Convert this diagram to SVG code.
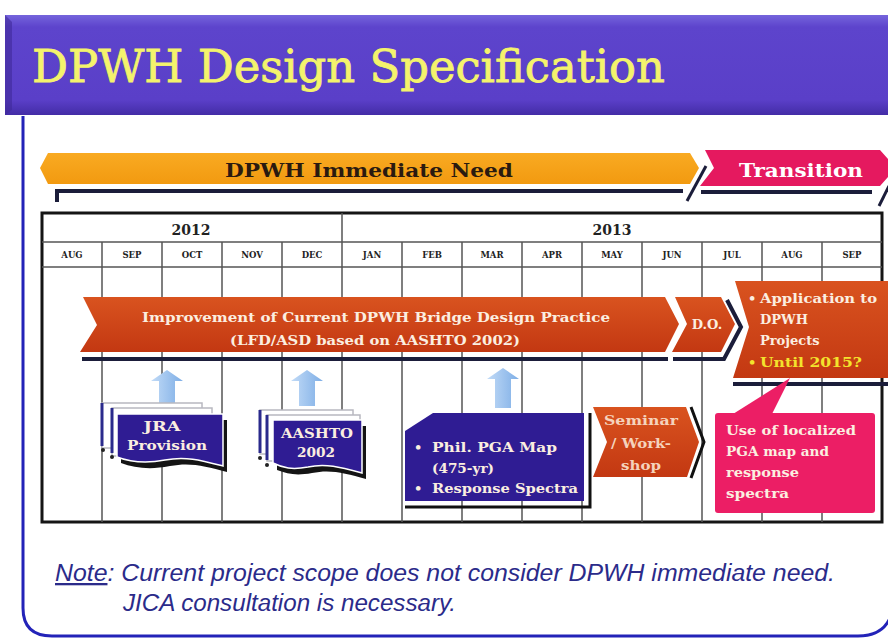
<svg xmlns="http://www.w3.org/2000/svg" width="888" height="638" viewBox="0 0 888 638">
<defs>
<linearGradient id="gTitle" x1="0" y1="0" x2="0" y2="1">
<stop offset="0" stop-color="#7564dc"/><stop offset="0.12" stop-color="#5d44cc"/><stop offset="0.85" stop-color="#5a3fc8"/><stop offset="1" stop-color="#432ca6"/>
</linearGradient>
<linearGradient id="gRed" x1="0" y1="0" x2="0" y2="1">
<stop offset="0" stop-color="#d9531f"/><stop offset="1" stop-color="#c33812"/>
</linearGradient>
<linearGradient id="gOrange" x1="0" y1="0" x2="0" y2="1">
<stop offset="0" stop-color="#f9aa22"/><stop offset="1" stop-color="#f29a10"/>
</linearGradient>
<linearGradient id="gBlueArrow" x1="0" y1="0" x2="1" y2="0">
<stop offset="0" stop-color="#c2dbf7"/><stop offset="1" stop-color="#7eaee6"/>
</linearGradient>
<style>
.bt{font-family:"DejaVu Serif","Liberation Serif",serif;font-weight:bold}
.wt{fill:#fbeee0}
.mo{font-family:"DejaVu Serif","Liberation Serif",serif;font-weight:bold;font-size:8.5px;fill:#222;text-anchor:middle}
.yr{font-family:"DejaVu Serif","Liberation Serif",serif;font-weight:bold;font-size:14px;fill:#222;text-anchor:middle}
.grid{stroke:#555;stroke-width:1.5;fill:none}
.shadow{stroke:#1b1d3a;stroke-width:4;fill:none}
.dblue{fill:#2f1c93}
.back{fill:#fff;stroke:#b8b8c0;stroke-width:1.5}
.bl{stroke:#2a2a8c;stroke-width:3}
.arr{fill:url(#gBlueArrow)}
.note{font-family:"Liberation Sans",Arial,sans-serif;font-style:italic;font-size:23px;fill:#2b2b8a}
</style>
</defs>
<rect width="888" height="638" fill="#ffffff"/>

<g id="frame">
<path d="M23,116 V608 Q23,636 52,636 H858 Q882,636 890,618" fill="none" stroke="#2323b8" stroke-width="3"/>
</g>

<g id="title">
<rect x="5" y="15" width="883" height="100" fill="url(#gTitle)"/>
<path d="M5,15 L12,22 V110 L5,115 Z" fill="#3f2a9a" opacity="0.6"/>
<text x="32" y="82" font-family="DejaVu Serif, Liberation Serif, serif" font-size="44" fill="#f4f36c" stroke="#f4f36c" stroke-width="0.8" textLength="633" lengthAdjust="spacingAndGlyphs">DPWH Design Specification</text>
</g>

<g id="band-immediate">
<polygon points="48,153 690,153 699,168 690,184 48,184 40,168" fill="url(#gOrange)"/>
<text class="bt" x="369" y="177" font-size="18" fill="#2a1a10" text-anchor="middle" textLength="288" lengthAdjust="spacingAndGlyphs">DPWH Immediate Need</text>
<path d="M57,202 V191 H683" class="shadow"/>
<path d="M687,201 L706,166" stroke="#1b1d3a" stroke-width="3"/>
</g>

<g id="band-transition">
<polygon points="705,150 880,150 896,168 880,186 700,186 714,168" fill="#e5195f"/>
<text class="bt" x="801" y="177" font-size="19" fill="#ffffff" text-anchor="middle" textLength="124" lengthAdjust="spacingAndGlyphs">Transition</text>
<path d="M701,192 H872" class="shadow"/>
<path d="M879,206 L889,186" stroke="#1b1d3a" stroke-width="3"/>
</g>

<g id="table">
<rect x="42" y="213" width="840" height="309" fill="none" stroke="#151515" stroke-width="3"/>
<path class="grid" d="M42,242 H882 M42,267 H882 M342,213 V242"/>
<path class="grid" d="M102,242 V522 M162,242 V522 M222,242 V522 M282,242 V522 M342,242 V522 M402,242 V522 M462,242 V522 M522,242 V522 M582,242 V522 M642,242 V522 M702,242 V522 M762,242 V522 M822,242 V522"/>
<text class="yr" x="191" y="235">2012</text>
<text class="yr" x="612" y="235">2013</text>
<text class="mo" x="72" y="258">AUG</text>
<text class="mo" x="132" y="258">SEP</text>
<text class="mo" x="192" y="258">OCT</text>
<text class="mo" x="252" y="258">NOV</text>
<text class="mo" x="312" y="258">DEC</text>
<text class="mo" x="372" y="258">JAN</text>
<text class="mo" x="432" y="258">FEB</text>
<text class="mo" x="492" y="258">MAR</text>
<text class="mo" x="552" y="258">APR</text>
<text class="mo" x="612" y="258">MAY</text>
<text class="mo" x="672" y="258">JUN</text>
<text class="mo" x="732" y="258">JUL</text>
<text class="mo" x="792" y="258">AUG</text>
<text class="mo" x="852" y="258">SEP</text>
</g>

<g id="improvement">
<path d="M82,359 H668" class="shadow"/>
<polygon points="83,297 665,297 679,324 665,352 80,352 97,325" fill="url(#gRed)"/>
<text class="bt wt" x="376" y="322" font-size="13" text-anchor="middle" textLength="468" lengthAdjust="spacingAndGlyphs">Improvement of Current DPWH Bridge Design Practice</text>
<text class="bt wt" x="375" y="345" font-size="13" text-anchor="middle" textLength="290" lengthAdjust="spacingAndGlyphs">(LFD/ASD based on AASHTO 2002)</text>
</g>

<g id="do">
<path d="M673,359 H724 L741,327 L727,300" class="shadow" stroke-width="3.5"/>
<polygon points="675,297 721,297 735,324 721,352 672,352 687,324" fill="url(#gRed)"/>
<text class="bt wt" x="707" y="329" font-size="13" text-anchor="middle">D.O.</text>
</g>

<g id="application">
<path d="M733,384 H888" class="shadow"/>
<polygon points="735,281 888,281 888,378 733,378 749,327" fill="url(#gRed)"/>
<text class="bt wt" x="748" y="303" font-size="13">•</text>
<text class="bt wt" x="760" y="303" font-size="13" textLength="117" lengthAdjust="spacingAndGlyphs">Application to</text>
<text class="bt wt" x="760" y="324" font-size="13">DPWH</text>
<text class="bt wt" x="760" y="345" font-size="13">Projects</text>
<text class="bt" x="748" y="367" font-size="13" fill="#f3e32d">•</text>
<text class="bt" x="760" y="367" font-size="13" fill="#f3e32d" textLength="102" lengthAdjust="spacingAndGlyphs">Until 2015?</text>
</g>

<g id="connectors">
<polygon class="arr" points="167,370 183,381 175,381 175,403 159,403 159,381 151,381"/>
<polygon class="arr" points="307,370 323,381 315,381 315,406 299,406 299,381 291,381"/>
<polygon class="arr" points="503,368 519,379 511,379 511,408 495,408 495,379 487,379"/>
<polygon points="733,414 790,378 772,414" fill="#ec1e65"/>
</g>

<g id="jra">
<rect class="back" x="102" y="403" width="100" height="45"/>
<line class="bl" x1="102" y1="403" x2="102" y2="446"/>
<circle cx="103" cy="450" r="2" fill="#222"/>
<rect class="back" x="112" y="408" width="100" height="48"/>
<line class="bl" x1="112" y1="408" x2="112" y2="453"/>
<circle cx="112" cy="457" r="2" fill="#222"/>
<path d="M121,420 H227 V472 C205,466 190,462 170,466 C150,470 135,468 121,463 Z" fill="#141414"/>
<path d="M117,414 H223 V466 C200,460 185,456 165,460 C145,464 130,462 117,457 Z" class="dblue" stroke="#ffffff" stroke-width="1.5"/>
<text class="bt wt" x="162" y="431" font-size="13" text-anchor="middle" textLength="37" lengthAdjust="spacingAndGlyphs">JRA</text>
<text class="bt wt" x="167" y="450" font-size="13" text-anchor="middle" textLength="80" lengthAdjust="spacingAndGlyphs">Provision</text>
</g>

<g id="aashto">
<rect class="back" x="260" y="410" width="93" height="44"/>
<line class="bl" x1="260" y1="410" x2="260" y2="453"/>
<circle cx="260" cy="458" r="2" fill="#222"/>
<rect class="back" x="267" y="415" width="93" height="46"/>
<line class="bl" x1="267" y1="415" x2="267" y2="460"/>
<circle cx="267" cy="465" r="2" fill="#222"/>
<path d="M277,426 H366 V479 C345,473 330,469 312,473 C296,476 288,474 277,470 Z" fill="#141414"/>
<path d="M273,420 H362 V473 C340,467 325,463 308,467 C292,470 283,468 273,463 Z" class="dblue" stroke="#ffffff" stroke-width="1.5"/>
<text class="bt wt" x="317" y="438" font-size="13" text-anchor="middle" textLength="72" lengthAdjust="spacingAndGlyphs">AASHTO</text>
<text class="bt wt" x="316" y="457" font-size="13" text-anchor="middle" textLength="38" lengthAdjust="spacingAndGlyphs">2002</text>
</g>

<g id="pga">
<path d="M590,413 V507 H405" stroke="#111" stroke-width="3" fill="none"/>
<polygon points="433,413 584,413 584,501 405,501 405,431" class="dblue"/>
<text class="bt wt" x="414" y="452" font-size="13">•</text>
<text class="bt wt" x="432" y="452" font-size="13" textLength="125" lengthAdjust="spacingAndGlyphs">Phil. PGA Map</text>
<text class="bt wt" x="432" y="473" font-size="13" textLength="62" lengthAdjust="spacingAndGlyphs">(475-yr)</text>
<text class="bt wt" x="414" y="493" font-size="13">•</text>
<text class="bt wt" x="432" y="493" font-size="13" textLength="146" lengthAdjust="spacingAndGlyphs">Response Spectra</text>
</g>

<g id="seminar">
<path d="M691,407 L704,442 L691,478" stroke="#111" stroke-width="3" fill="none"/>
<polygon points="593,407 686,407 699,442 687,477 593,477 607,442" fill="url(#gRed)"/>
<text class="bt" x="641" y="425" font-size="13" fill="#f5d3bc" text-anchor="middle" textLength="74" lengthAdjust="spacingAndGlyphs">Seminar</text>
<text class="bt" x="641" y="448" font-size="13" fill="#f5d3bc" text-anchor="middle" textLength="60" lengthAdjust="spacingAndGlyphs">/ Work-</text>
<text class="bt" x="641" y="470" font-size="13" fill="#f5d3bc" text-anchor="middle" textLength="40" lengthAdjust="spacingAndGlyphs">shop</text>
</g>

<g id="callout">
<rect x="715" y="413" width="160" height="100" rx="3" fill="#ec1e65"/>
<text class="bt wt" x="726" y="435" font-size="13" textLength="130" lengthAdjust="spacingAndGlyphs">Use of localized</text>
<text class="bt wt" x="726" y="456" font-size="13" textLength="103" lengthAdjust="spacingAndGlyphs">PGA map and</text>
<text class="bt wt" x="726" y="477" font-size="13" textLength="73" lengthAdjust="spacingAndGlyphs">response</text>
<text class="bt wt" x="726" y="498" font-size="13" textLength="63" lengthAdjust="spacingAndGlyphs">spectra</text>
</g>

<g id="note">
<text class="note" x="55" y="581" textLength="780" lengthAdjust="spacingAndGlyphs"><tspan text-decoration="underline">Note</tspan>: Current project scope does not consider DPWH immediate need.</text>
<text class="note" x="123" y="611" textLength="333" lengthAdjust="spacingAndGlyphs">JICA consultation is necessary.</text>
</g>
</svg>
